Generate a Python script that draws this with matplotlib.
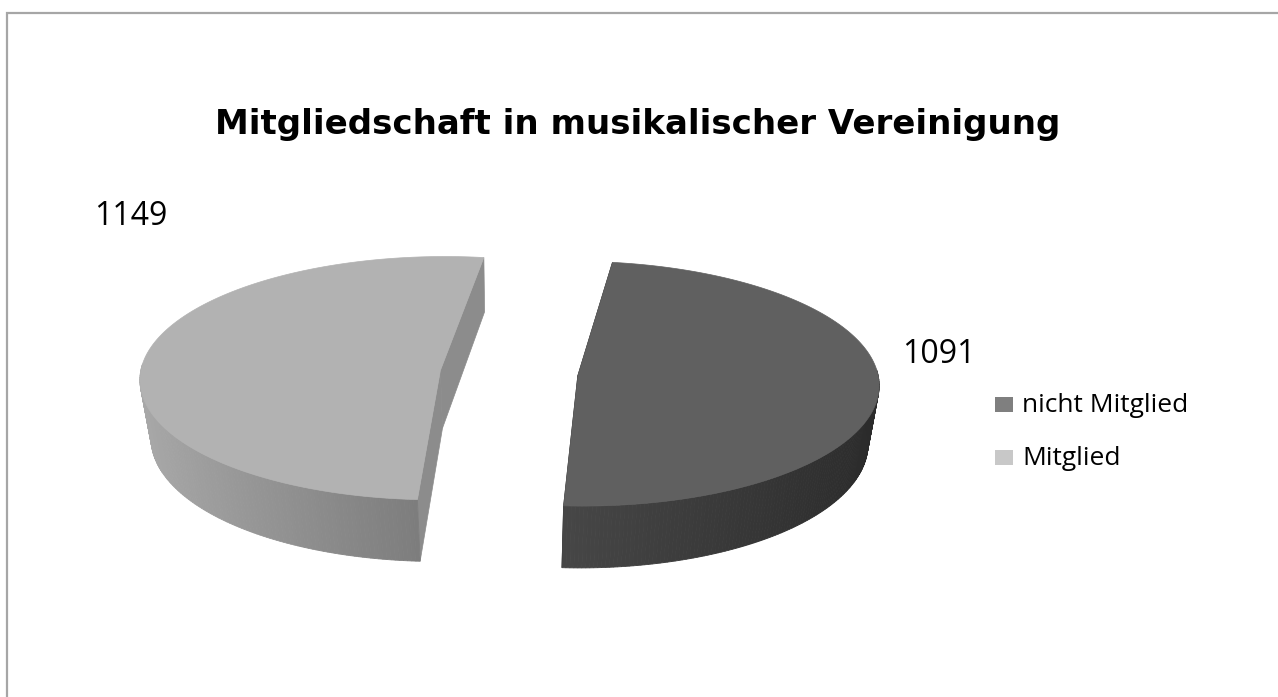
import numpy as np
import matplotlib.pyplot as plt
from matplotlib.patches import Polygon, Rectangle

# data
categories = ['nicht Mitglied', 'Mitglied']
values = [1091, 1149]
title = 'Mitgliedschaft in musikalischer Vereinigung'

# styles
top_colors = ['#606060', '#b2b2b2']
side_base = [0.27, 0.48]
cut_colors = ['#1e1e1e', '#8c8c8c']
legend_colors = ['#7f7f7f', '#c8c8c8']

W, H = 1278, 697
fig = plt.figure(figsize=(W / 100, H / 100), dpi=100)
ax = fig.add_axes([0, 0, 1, 1])
ax.set_xlim(0, W)
ax.set_ylim(H, 0)
ax.axis('off')

# pie geometry (pixels)
cx, cy = 509, 373
rx, ry = 300, 122
depth = 58
persp = 0.065
shrink = 0.03
explode = 0.23
start = 82


def project(u, v, level=0):
    s = 1 - persp * v
    x = cx + rx * u * s * (1 - shrink * level)
    y = cy - ry * v * s + depth * s * level
    return x, y


total = float(sum(values))
cum = 0.0
for i, val in enumerate(values):
    span = 360.0 * val / total
    t2 = start - cum
    t1 = t2 - span
    cum += span
    b = np.radians((t1 + t2) / 2)
    ou, ov = explode * np.cos(b), explode * np.sin(b)
    th = np.radians(np.linspace(t1, t2, 240))
    us, vs = ou + np.cos(th), ov + np.sin(th)

    apex_t = project(ou, ov, 0)
    apex_b = project(ou, ov, 1)
    # cut faces
    for t in (th[0], th[-1]):
        u, v = ou + np.cos(t), ov + np.sin(t)
        quad = [apex_t, project(u, v, 0), project(u, v, 1), apex_b]
        ax.add_patch(Polygon(quad, closed=True, facecolor=cut_colors[i],
                             edgecolor=cut_colors[i], lw=0.5))
    # outer side
    for k in range(len(th) - 1):
        tm = (th[k] + th[k + 1]) / 2
        if np.sin(tm) > 0.05:
            continue
        g = side_base[i] * (1 + 0.38 * np.cos(tm - np.pi))
        g = min(max(g, 0), 1)
        col = (g, g, g)
        quad = [project(us[k], vs[k], 0), project(us[k + 1], vs[k + 1], 0),
                project(us[k + 1], vs[k + 1], 1), project(us[k], vs[k], 1)]
        ax.add_patch(Polygon(quad, closed=True, facecolor=col, edgecolor=col, lw=0.6))
    # top face
    pts = [apex_t] + [project(u, v, 0) for u, v in zip(us, vs)]
    ax.add_patch(Polygon(pts, closed=True, facecolor=top_colors[i],
                         edgecolor=top_colors[i], lw=0.5))

# data labels
label_pos = [(939, 363), (131, 225)]
for val, (lx, ly) in zip(values, label_pos):
    ax.text(lx, ly, str(val), ha='center', va='baseline', fontsize=23,
            family='Open Sans', color='black')

# title
ax.text(638, 134, title, ha='center', va='baseline', fontsize=24.5,
        fontweight='bold', family='DejaVu Sans', color='black')

# legend
for j, (cat, col) in enumerate(zip(categories, legend_colors)):
    y0 = 397 + j * 53
    ax.add_patch(Rectangle((995, y0), 18, 15, facecolor=col, edgecolor='none'))
    ax.text(1022, y0 + 15, cat, ha='left', va='baseline', fontsize=19,
            family='Open Sans', color='black')

# chart frame
ax.plot([7, 7, W + 5], [H + 5, 13, 13], color='#a6a6a6', lw=1.6,
        solid_joinstyle='miter', clip_on=False)

fig.savefig('out.png', dpi=100)
